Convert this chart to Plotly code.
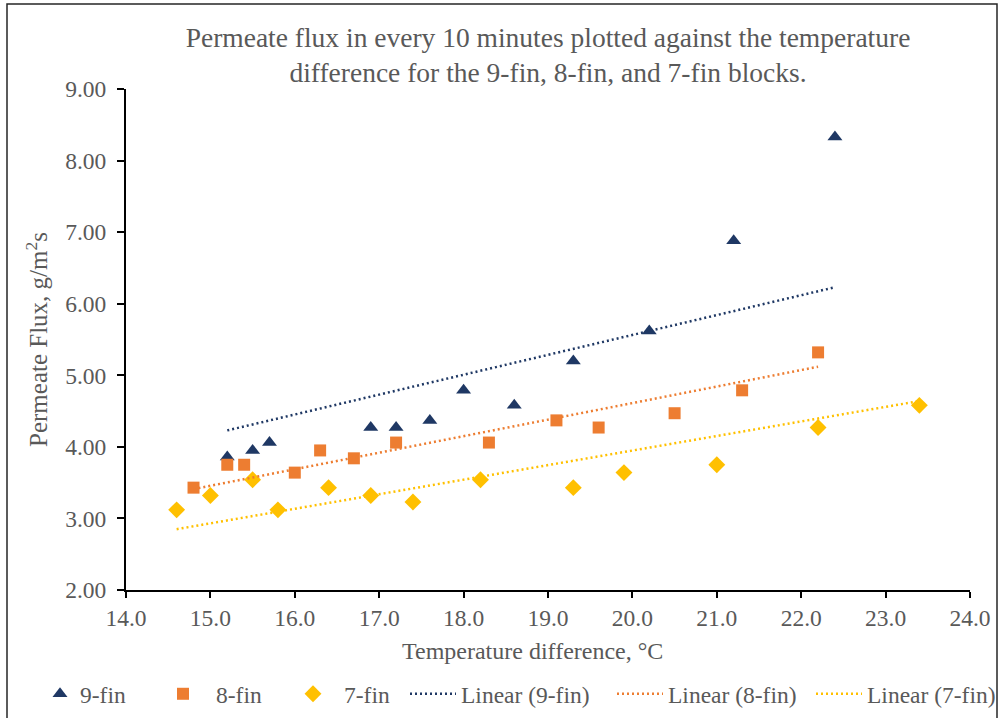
import plotly.graph_objects as go

# ---- data ----
x9 = [15.2, 15.5, 15.7, 16.9, 17.2, 17.6, 18.0, 18.6, 19.3, 20.2, 21.2, 22.4]
y9 = [3.86, 3.95, 4.06, 4.27, 4.27, 4.37, 4.79, 4.58, 5.20, 5.62, 6.88, 8.33]

x8 = [14.8, 15.2, 15.4, 16.0, 16.3, 16.7, 17.2, 18.3, 19.1, 19.6, 20.5, 21.3, 22.2]
y8 = [3.43, 3.75, 3.75, 3.64, 3.95, 3.84, 4.06, 4.06, 4.37, 4.27, 4.47, 4.79, 5.32]

x7 = [14.6, 15.0, 15.5, 15.8, 16.4, 16.9, 17.4, 18.2, 19.3, 19.9, 21.0, 22.2, 23.4]
y7 = [3.12, 3.32, 3.54, 3.12, 3.43, 3.32, 3.23, 3.54, 3.43, 3.64, 3.75, 4.27, 4.58]

# linear trendline end points as drawn in the reference
trend9_x = [15.2, 22.4]
trend9_y = [4.23, 6.23]
trend8_x = [14.8, 22.2]
trend8_y = [3.41, 5.12]
trend7_x = [14.6, 23.4]
trend7_y = [2.85, 4.64]

series_names = ["9-fin", "8-fin", "7-fin"]
colors = ["#1F3864", "#ED7D31", "#FFC000"]
symbols = ["triangle-up", "square", "diamond"]
marker_sizes = [13, 12, 13]

FONT = "Liberation Serif, Times New Roman, serif"
GRAY = "#595959"

# plot area in pixels
L, R, T, B = 126, 970, 89, 590
W, H = 1005, 718
PW, PH = R - L, B - T


def px_to_paper_x(px):
    return (px - L) / PW


def px_to_paper_y(py):
    return (B - py) / PH


fig = go.Figure()

data = [(x9, y9), (x8, y8), (x7, y7)]
trends = [(trend9_x, trend9_y), (trend8_x, trend8_y), (trend7_x, trend7_y)]
legend_ids = ["legend2", "legend3", "legend4", "legend5", "legend6", "legend7"]

for i, ((xs, ys), name) in enumerate(zip(data, series_names)):
    fig.add_trace(go.Scatter(
        x=xs, y=ys, mode="markers", name=name,
        marker=dict(symbol=symbols[i], size=marker_sizes[i], color=colors[i],
                    line=dict(width=0)),
        legend=legend_ids[i], cliponaxis=False,
    ))

for i, ((tx, ty), name) in enumerate(zip(trends, series_names)):
    fig.add_trace(go.Scatter(
        x=tx, y=ty, mode="lines", name=f"Linear ({name})",
        line=dict(color=colors[i], width=2.5, dash="2px,3px"),
        legend=legend_ids[3 + i],
    ))

# legend placement: (pixel x of item origin, item symbol width)
legend_cfg = [(40, 30), (150, 56), (282, 52), (405, 46), (612, 46), (811, 46)]
legend_y = px_to_paper_y(694)
layout_legends = {}
for lid, (lpx, iw) in zip(legend_ids, legend_cfg):
    layout_legends[lid] = dict(
        orientation="h", yanchor="middle", xanchor="left",
        x=px_to_paper_x(lpx), y=legend_y, itemwidth=iw,
        bgcolor="rgba(0,0,0,0)", borderwidth=0,
        font=dict(family=FONT, size=23.5, color=GRAY),
    )

fig.update_layout(
    width=W, height=H,
    margin=dict(l=L, r=W - R, t=T, b=H - B, autoexpand=False),
    paper_bgcolor="white", plot_bgcolor="white",
    font=dict(family=FONT, size=23.5, color=GRAY),
    showlegend=True,
    title=dict(
        text="Permeate flux in every 10 minutes plotted against the temperature<br>"
             "difference for the 9-fin, 8-fin, and 7-fin blocks.",
        x=px_to_paper_x(548), xref="paper", xanchor="center",
        y=1 - 46.5 / H, yref="container", yanchor="middle",
        font=dict(family=FONT, size=27.5, color=GRAY),
    ),
    xaxis=dict(
        range=[14, 24], dtick=1, tick0=14, tickformat=".1f",
        showgrid=False, zeroline=False,
        showline=True, linecolor="black", linewidth=2,
        ticks="outside", ticklen=6, tickwidth=2, tickcolor="black",
        tickfont=dict(family=FONT, size=23.5, color=GRAY),
        automargin=False,
    ),
    yaxis=dict(
        range=[2, 9], dtick=1, tick0=2, tickformat=".2f",
        showgrid=False, zeroline=False,
        showline=True, linecolor="black", linewidth=2,
        ticks="outside", ticklen=7, tickwidth=2, tickcolor="black",
        ticklabelstandoff=6,
        tickfont=dict(family=FONT, size=23.5, color=GRAY),
        title=dict(text="Permeate Flux, g/m<sup>2</sup>s", standoff=10,
                   font=dict(family=FONT, size=25, color=GRAY)),
        automargin=False,
    ),
    **layout_legends,
)

# x axis title placed where the reference has it
fig.add_annotation(
    text="Temperature difference, °C", xref="paper", yref="paper",
    x=px_to_paper_x(532), y=px_to_paper_y(651), xanchor="center", yanchor="middle",
    showarrow=False, font=dict(family=FONT, size=24, color=GRAY),
)

# outer chart border
fig.add_shape(type="rect", xref="paper", yref="paper",
              x0=px_to_paper_x(7), x1=px_to_paper_x(997),
              y0=px_to_paper_y(730), y1=px_to_paper_y(4),
              line=dict(color="#262626", width=1.5), fillcolor="rgba(0,0,0,0)",
              layer="below")

fig.write_html("out.html")
